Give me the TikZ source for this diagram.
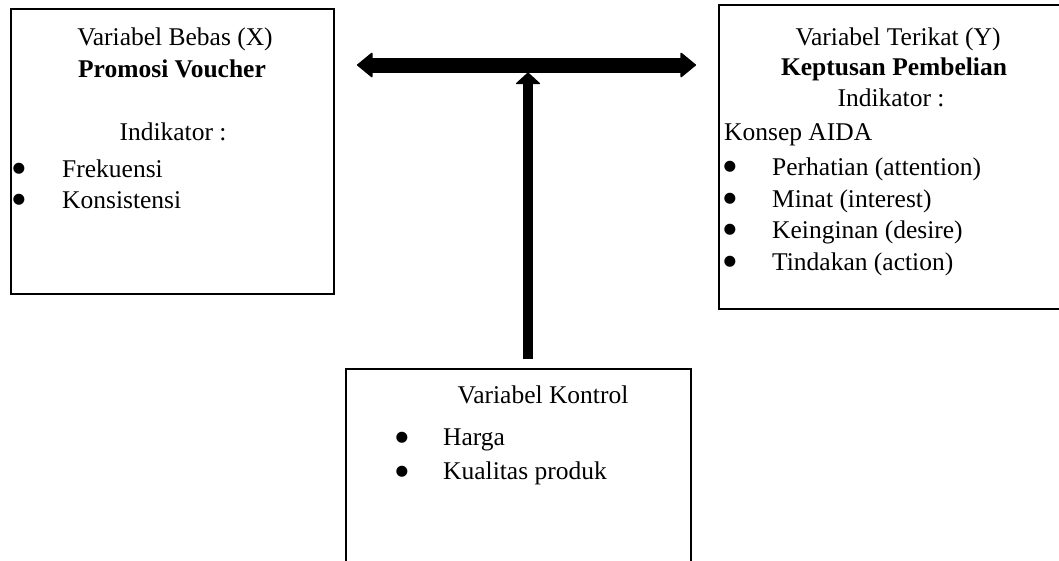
\documentclass[tikz,border=0pt]{standalone}
\usepackage{fontspec}
\setmainfont{Liberation Serif}
\newfontfamily\bulletfont{DejaVu Sans}
\usetikzlibrary{arrows.meta}
\begin{document}
\begin{tikzpicture}[x=1pt,y=-1pt,
  box/.style={draw=black, line width=2pt, inner sep=0pt},
  txt/.style={inner sep=0pt, anchor=base, font=\fontsize{25.5}{30}\selectfont},
  ltxt/.style={txt, anchor=base west},
  bul/.style={inner sep=0pt, anchor=center, font=\bulletfont\fontsize{14.5}{14.5}\selectfont},
  bigarrow/.style={line width=15pt, {Triangle[length=16pt,width=26pt,line width=1.5pt,round]}-{Triangle[length=16pt,width=26pt,line width=1.5pt,round]}},
  uparrow/.style={line width=10pt, -{Triangle[length=12pt,width=26pt,line width=1.5pt,round]}}]
\useasboundingbox (0,0) rectangle (1059,560);
\clip (0,0) rectangle (1059,560);
% boxes
\node[box, minimum width=323pt, minimum height=285pt] (X) at (172.5,151.5) {};
\node[box, minimum width=351pt, minimum height=304pt] (Y) at (894.5,157) {};
\node[box, minimum width=345pt, minimum height=211pt] (K) at (518.5,474.5) {};
% left box text
\node[txt] (x1) at (175,45) {Variabel Bebas (X)};
\node[txt] (x2) at (172,77) {\textbf{Promosi Voucher}};
\node[txt] (x3) at (173,140) {Indikator :};
\node[bul] (xb1) at (19,169) {●};
\node[ltxt] (x4) at (62,177) {Frekuensi};
\node[bul] (xb2) at (19,200) {●};
\node[ltxt] (x5) at (62,208) {Konsistensi};
% right box text
\node[txt] (y1) at (898,45) {Variabel Terikat (Y)};
\node[txt] (y2) at (894,75) {\textbf{Keptusan Pembelian}};
\node[txt] (y3) at (891,106) {Indikator :};
\node[ltxt] (y4) at (724,140) {Konsep AIDA};
\node[bul] (yb1) at (730,167) {●};
\node[ltxt] (y5) at (772,175) {Perhatian (attention)};
\node[bul] (yb2) at (730,199) {●};
\node[ltxt] (y6) at (772,207) {Minat (interest)};
\node[bul] (yb3) at (730,230) {●};
\node[ltxt] (y7) at (772,238) {Keinginan (desire)};
\node[bul] (yb4) at (730,262) {●};
\node[ltxt] (y8) at (772,270) {Tindakan (action)};
% bottom box text
\node[txt] (k1) at (543,403) {Variabel Kontrol};
\node[bul] (kb1) at (402,438) {●};
\node[ltxt] (k2) at (443,445) {Harga};
\node[bul] (kb2) at (402,472) {●};
\node[ltxt] (k3) at (443,479) {Kualitas produk};
% arrows
\coordinate (L) at (357,65);
\coordinate (R) at (696,65);
\coordinate (J) at (528,72.5);
\draw[bigarrow] (L) -- (R);
\draw[uparrow, shorten <=9pt] (K.north -| J) -- (J);
\end{tikzpicture}
\end{document}
